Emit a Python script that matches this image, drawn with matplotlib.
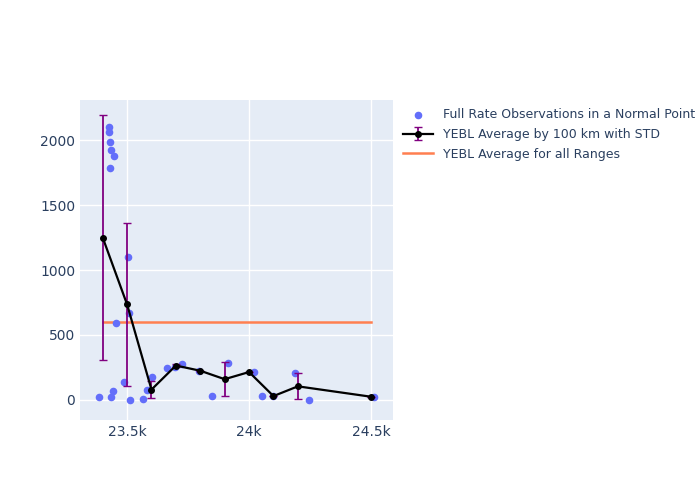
import matplotlib
matplotlib.use('Agg')
import matplotlib.pyplot as plt

# observations
obs_x = [23386, 23426, 23427, 23429, 23435, 23445, 23431, 23434, 23442, 23455,
         23505, 23508, 23489, 23511, 23567, 23583, 23604, 23663, 23698, 23727,
         23796, 23850, 23914, 24022, 24052, 24100, 24189, 24246, 24512]
obs_y = [25, 2102, 2064, 1982, 1923, 1877, 1787, 21, 72, 592,
         1098, 667, 141, 0, 5, 74, 175, 249, 256, 279,
         223, 28, 285, 215, 28, 28, 205, 0, 21]

# 100 km averages
avg_x = [23400, 23500, 23600, 23700, 23800, 23900, 24000, 24100, 24200, 24500]
avg_y = [1250, 735, 80, 265, 225, 160, 215, 30, 105, 25]
avg_std = [940, 625, 65, 15, 0, 130, 0, 0, 100, 0]

mean_x = [23400, 24500]
mean_y = [600, 600]

fig = plt.figure(figsize=(7, 5), dpi=100)
ax = fig.add_axes([80/700, 80/500, 313/700, 320/500])
ax.set_facecolor('#E5ECF6')
h1 = ax.scatter(obs_x, obs_y, s=20, color='#636EFA', zorder=3,
                label='Full Rate Observations in a Normal Point')
h2 = ax.errorbar(avg_x, avg_y, yerr=avg_std, color='black', marker='o', ms=4, lw=1.6,
                 ecolor='purple', elinewidth=1.3, capsize=3, zorder=4,
                 label='YEBL Average by 100 km with STD')
h3, = ax.plot(mean_x, mean_y, color='#FF7F50', lw=1.8, zorder=2,
              label='YEBL Average for all Ranges')

ax.set_xlim(23307, 24590)
ax.set_ylim(-154, 2308)
ax.set_xticks([23500, 24000, 24500])
ax.set_xticklabels(['23.5k', '24k', '24.5k'])
ax.set_yticks([0, 500, 1000, 1500, 2000])
ax.grid(color='white', lw=1)
ax.set_axisbelow(True)
for s in ax.spines.values():
    s.set_visible(False)
ax.tick_params(length=0, colors='#2a3f5f', labelsize=10)

fig.legend(handles=[h1, h2, h3], loc='upper left', bbox_to_anchor=(398/700, 1 - 103/500),
           frameon=False, fontsize=9, labelcolor='#2a3f5f',
           handlelength=2.4, labelspacing=0.55, borderaxespad=0)
fig.savefig('out.png')
